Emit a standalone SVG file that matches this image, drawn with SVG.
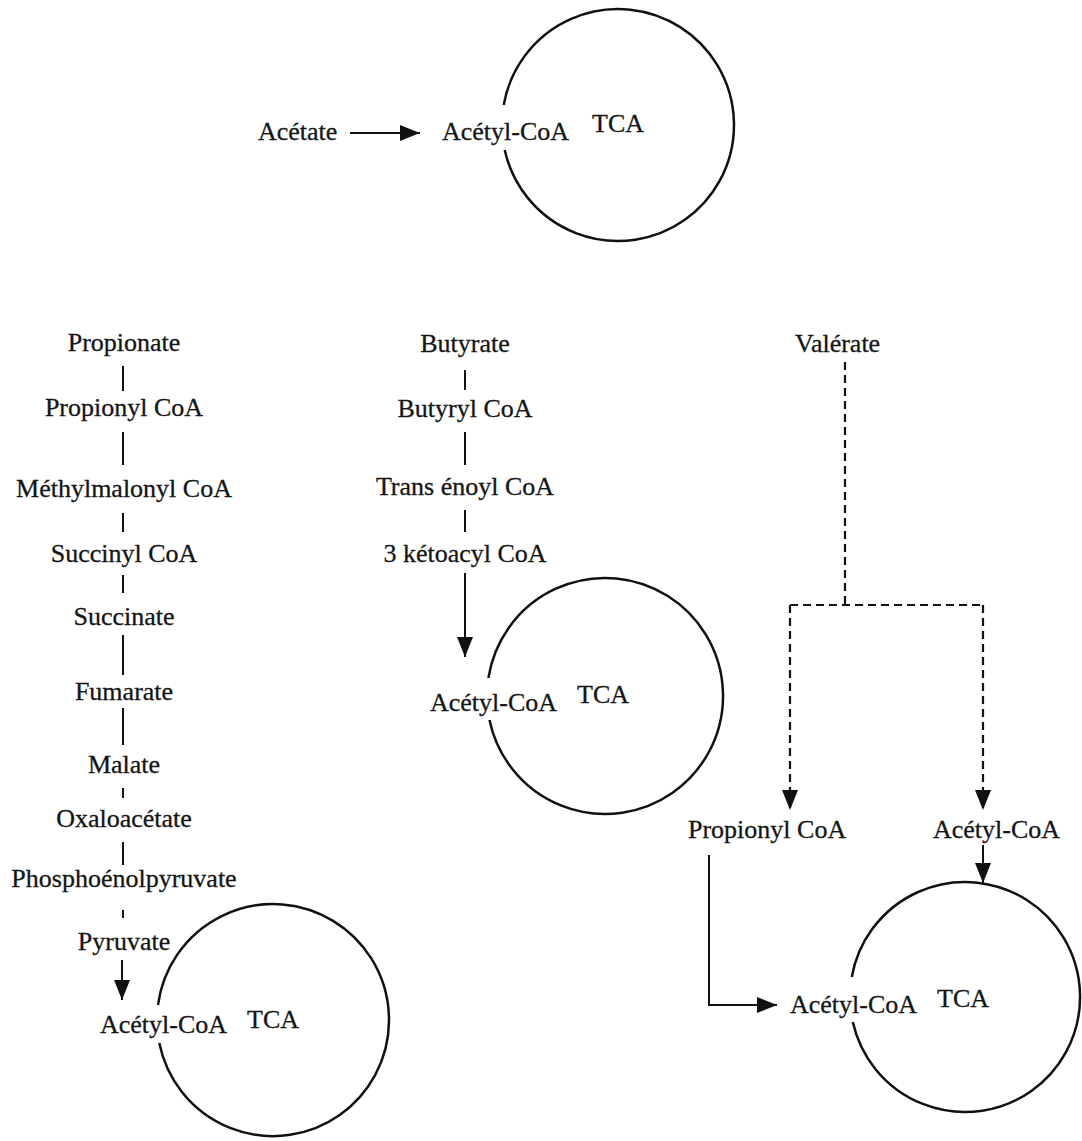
<svg xmlns="http://www.w3.org/2000/svg" width="1082" height="1141" viewBox="0 0 1082 1141">
<style>
text{font-family:"Liberation Serif","Times New Roman",serif;font-size:26px;fill:#151515;stroke:#151515;stroke-width:0.3}
.m{text-anchor:middle}
.cyc{fill:none;stroke:#111;stroke-width:2.5}
.ln{stroke:#111;stroke-width:2;fill:none}
.ds{stroke:#111;stroke-width:2.2;fill:none;stroke-dasharray:8 5}
</style>
<defs>
<marker id="ah" markerUnits="userSpaceOnUse" markerWidth="22" markerHeight="18" refX="20" refY="8" orient="auto">
<path d="M0,0 L20,8 L0,16 Z" fill="#111"/>
</marker>
</defs>
<rect width="1082" height="1141" fill="#fff"/>

<g id="cycle-top">
<path class="cyc" d="M503.7,105 A116,116 0 1 1 504.7,150"/>
<text x="442" y="140">Acétyl-CoA</text>
<text x="592" y="132">TCA</text>
</g>
<g id="acetate"><text x="258" y="140">Acétate</text></g>

<g id="propionate-chain">
<text class="m" x="124" y="351">Propionate</text>
<text class="m" x="124" y="416">Propionyl CoA</text>
<text class="m" x="124" y="497">Méthylmalonyl CoA</text>
<text class="m" x="124" y="562">Succinyl CoA</text>
<text class="m" x="124" y="625">Succinate</text>
<text class="m" x="124" y="700">Fumarate</text>
<text class="m" x="124" y="773">Malate</text>
<text class="m" x="124" y="827">Oxaloacétate</text>
<text class="m" x="124" y="887">Phosphoénolpyruvate</text>
<text class="m" x="124" y="950">Pyruvate</text>
</g>
<g id="cycle-left">
<path class="cyc" d="M158,1005 A116,116 0 1 1 159.3,1043"/>
<text x="100" y="1033">Acétyl-CoA</text>
<text x="247" y="1028">TCA</text>
</g>

<g id="butyrate-chain">
<text class="m" x="465" y="352">Butyrate</text>
<text class="m" x="465" y="417">Butyryl CoA</text>
<text class="m" x="465" y="495">Trans énoyl CoA</text>
<text class="m" x="465" y="562">3 kétoacyl CoA</text>
</g>
<g id="cycle-middle">
<path class="cyc" d="M488.4,678 A118,118 0 1 1 489.5,720"/>
<text x="430" y="711">Acétyl-CoA</text>
<text x="577" y="703">TCA</text>
</g>

<g id="valerate"><text x="795" y="352">Valérate</text></g>
<g id="valerate-propionyl"><text x="688" y="838">Propionyl CoA</text></g>
<g id="valerate-acetyl"><text x="933" y="838">Acétyl-CoA</text></g>
<g id="cycle-right">
<path class="cyc" d="M851.8,977 A115,115 0 1 1 852.8,1022"/>
<text x="790" y="1013">Acétyl-CoA</text>
<text x="937" y="1007">TCA</text>
</g>

<g id="connectors">
<line class="ln" x1="350" y1="133" x2="420" y2="133" marker-end="url(#ah)"/>

<line class="ln" x1="123" y1="366" x2="123" y2="391"/>
<line class="ln" x1="123" y1="432" x2="123" y2="465"/>
<line class="ln" x1="123" y1="513" x2="123" y2="532"/>
<line class="ln" x1="123" y1="575" x2="123" y2="593"/>
<line class="ln" x1="123" y1="635" x2="123" y2="675"/>
<line class="ln" x1="123" y1="708" x2="123" y2="745"/>
<line class="ln" x1="123" y1="788" x2="123" y2="798"/>
<line class="ln" x1="123" y1="842" x2="123" y2="865"/>
<line class="ln" x1="123" y1="910" x2="123" y2="918"/>
<line class="ln" x1="122" y1="960" x2="122" y2="1000" marker-end="url(#ah)"/>

<line class="ln" x1="465" y1="370" x2="465" y2="390"/>
<line class="ln" x1="465" y1="432" x2="465" y2="465"/>
<line class="ln" x1="465" y1="510" x2="465" y2="532"/>
<line class="ln" x1="465" y1="573" x2="465" y2="657" marker-end="url(#ah)"/>

<line class="ds" x1="845" y1="362" x2="845" y2="605"/>
<polyline class="ds" points="790,605 983,605"/>
<line class="ds" x1="790" y1="605" x2="790" y2="810" marker-end="url(#ah)"/>
<line class="ds" x1="983" y1="605" x2="983" y2="810" marker-end="url(#ah)"/>

<line class="ln" x1="983" y1="845" x2="983" y2="883" marker-end="url(#ah)"/>
<polyline class="ln" points="709,855 709,1005 777,1005" marker-end="url(#ah)"/>
</g>
</svg>
